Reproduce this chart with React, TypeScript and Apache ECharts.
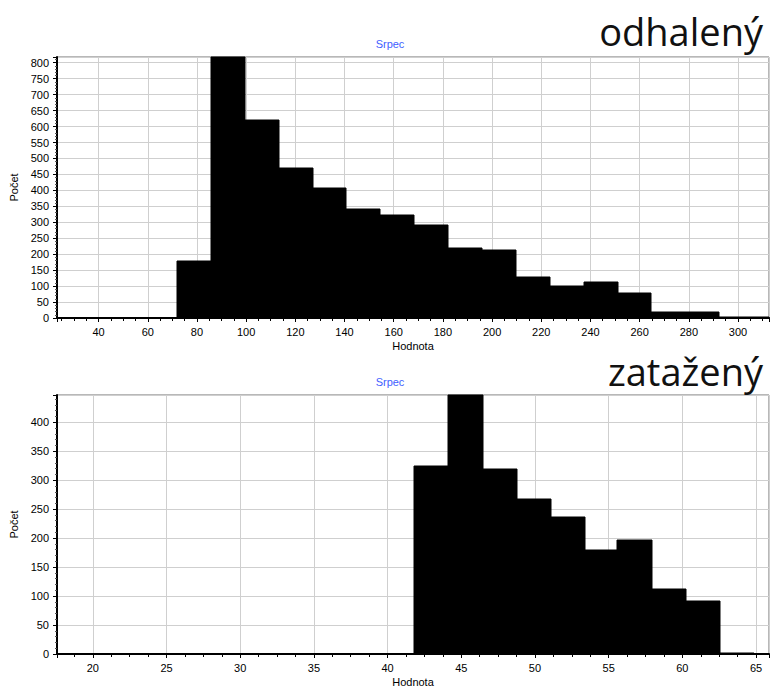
import React, { useEffect, useRef } from "react";
import * as echarts from "echarts";

// Top histogram ("odhalený")
const topEdges = [71.9, 85.7, 99.5, 113.2, 127.0, 140.8, 154.6, 168.4, 182.1, 195.9, 209.7, 223.5, 237.3, 251.0, 264.8, 278.6, 292.4, 306.2, 320.0];
const topCounts = [178, 870, 621, 471, 409, 341, 322, 290, 218, 212, 129, 99, 113, 79, 18, 18, 3, 3];

// Bottom histogram ("zatažený")
const bottomEdges = [41.79, 44.1, 46.49, 48.79, 51.08, 53.38, 55.55, 57.95, 60.25, 62.53, 64.84];
const bottomCounts = [324, 470, 320, 268, 237, 180, 196, 113, 92, 2];

const topTitle = "odhalený";
const bottomTitle = "zatažený";
const subTitle = "Srpec";
const xName = "Hodnota";
const yName = "Počet";

const LABEL_FONT = "'Liberation Sans', Arial, sans-serif";

function binsOf(edges: number[], counts: number[]) {
  return counts.map((c, i) => [edges[i], edges[i + 1], c]);
}

function renderBin(params: any, api: any) {
  const a = api.coord([api.value(0), api.value(2)]);
  const b = api.coord([api.value(1), 0]);
  const cs = params.coordSys;
  const top = Math.round(Math.max(a[1], cs.y));
  const left = Math.round(Math.max(a[0], cs.x));
  const right = Math.round(Math.min(b[0], cs.x + cs.width));
  const bottom = Math.round(b[1]);
  return {
    type: "rect",
    shape: { x: left, y: top, width: Math.max(0, right - left), height: bottom - top },
    style: { fill: "#000", stroke: "#000", lineWidth: 1 },
  };
}

function xAxisOf(gridIndex: number, min: number, max: number, interval: number, split: number) {
  return {
    type: "value",
    gridIndex,
    min,
    max,
    minInterval: interval,
    maxInterval: interval,
    splitNumber: split,
    name: xName,
    nameLocation: "middle",
    nameGap: 22,
    nameTextStyle: { fontFamily: LABEL_FONT, fontSize: 11, color: "#000" },
    axisLine: { show: true, onZero: false, lineStyle: { color: "#000", width: 2 } },
    axisTick: { show: true, length: 4, lineStyle: { color: "#000" } },
    minorTick: { show: true, splitNumber: 4, length: 3, lineStyle: { color: "#000" } },
    axisLabel: {
      margin: 8,
      showMinLabel: false,
      showMaxLabel: false,
      fontFamily: LABEL_FONT,
      fontSize: 11,
      color: "#000",
    },
    splitLine: { show: true, lineStyle: { color: "#cfcfcf", width: 1 } },
  };
}

function yAxisOf(gridIndex: number, max: number) {
  return {
    type: "value",
    gridIndex,
    min: 0,
    max,
    interval: 50,
    name: yName,
    nameLocation: "middle",
    nameGap: 35,
    nameTextStyle: { fontFamily: LABEL_FONT, fontSize: 11, color: "#000" },
    axisLine: { show: true, lineStyle: { color: "#000", width: 2 } },
    axisTick: { show: true, length: 4, lineStyle: { color: "#000" } },
    minorTick: { show: true, splitNumber: 5, length: 2, lineStyle: { color: "#555" } },
    axisLabel: {
      margin: 8,
      showMaxLabel: false,
      fontFamily: LABEL_FONT,
      fontSize: 11,
      color: "#000",
    },
    splitLine: { show: true, lineStyle: { color: "#cfcfcf", width: 1 } },
  };
}

export default function App() {
  const ref = useRef<HTMLDivElement>(null);
  useEffect(() => {
    if (!ref.current) return;
    const chart = echarts.init(ref.current, undefined, { renderer: "svg" });
    chart.setOption({
      animation: false,
      backgroundColor: "#fff",
      grid: [
        { left: 57, right: 2, top: 57, height: 261, show: true, borderColor: "#707070", borderWidth: 1, backgroundColor: "#fff" },
        { left: 57, right: 2, top: 395, height: 261, show: true, borderColor: "#707070", borderWidth: 1, backgroundColor: "#fff" },
      ],
      xAxis: [xAxisOf(0, 23.1, 312.6, 20, 14), xAxisOf(1, 17.57, 65.88, 5, 10)],
      yAxis: [yAxisOf(0, 818), yAxisOf(1, 447)],
      series: [
        {
          type: "custom",
          xAxisIndex: 0,
          yAxisIndex: 0,
          renderItem: renderBin,
          encode: { x: [0, 1], y: 2 },
          data: binsOf(topEdges, topCounts),
        },
        {
          type: "custom",
          xAxisIndex: 1,
          yAxisIndex: 1,
          renderItem: renderBin,
          encode: { x: [0, 1], y: 2 },
          data: binsOf(bottomEdges, bottomCounts),
        },
      ],
      graphic: [
        {
          type: "text",
          x: 763,
          y: 31,
          style: {
            text: topTitle,
            fill: "#111",
            font: "38px 'Open Sans', sans-serif",
            textAlign: "right",
            textVerticalAlign: "middle",
          },
        },
        {
          type: "text",
          x: 763,
          y: 371,
          style: {
            text: bottomTitle,
            fill: "#111",
            font: "38px 'Open Sans', sans-serif",
            textAlign: "right",
            textVerticalAlign: "middle",
          },
        },
        {
          type: "text",
          x: 390,
          y: 44,
          style: {
            text: subTitle,
            fill: "#3f5fff",
            font: "11px 'Liberation Sans', Arial, sans-serif",
            textAlign: "center",
            textVerticalAlign: "middle",
          },
        },
        {
          type: "text",
          x: 390,
          y: 382,
          style: {
            text: subTitle,
            fill: "#3f5fff",
            font: "11px 'Liberation Sans', Arial, sans-serif",
            textAlign: "center",
            textVerticalAlign: "middle",
          },
        },
      ],
    });
    return () => chart.dispose();
  }, []);
  return (
    <div
      ref={ref}
      style={{ position: "fixed", left: 0, top: 0, width: 771, height: 688, background: "#fff" }}
    />
  );
}
